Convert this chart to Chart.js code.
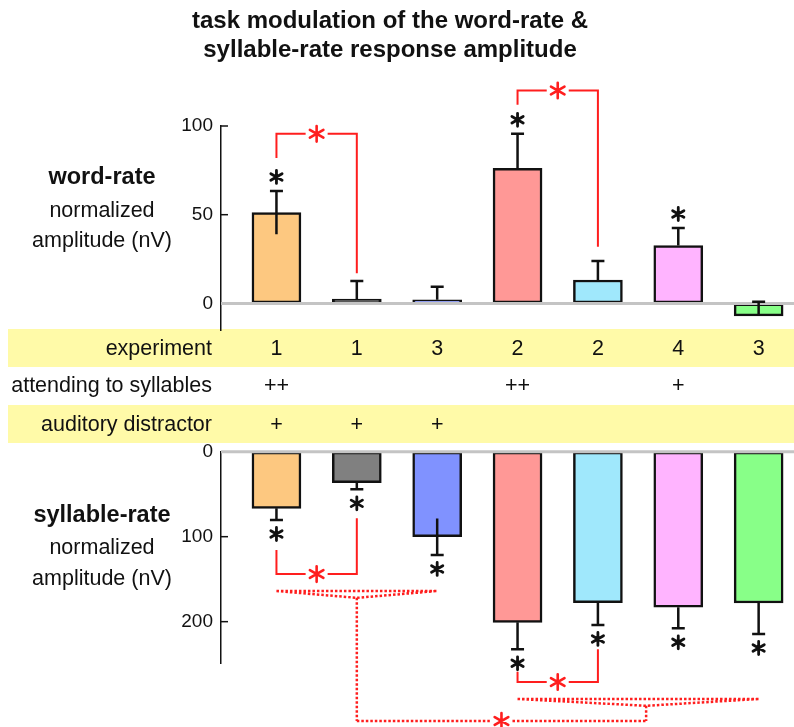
<!DOCTYPE html>
<html>
<head>
<meta charset="utf-8">
<script src="https://cdn.jsdelivr.net/npm/chart.js@4.4.1/dist/chart.umd.min.js"></script>
<style>
body { margin: 0; background: #fff; font-family: "Liberation Sans", Arial, sans-serif; color: #111; }
#wrap { position: relative; width: 794px; height: 727px; overflow: hidden; }
canvas { position: absolute; left: 0; top: 0; }
.t { position: absolute; white-space: nowrap; line-height: 1; }
.band { position: absolute; left: 8px; width: 786px; height: 38px; background: #fffaa8; }
.lab { left: 0; width: 204px; text-align: center; font-size: 21.5px; }
.row { right: 582px; text-align: right; font-size: 21.5px; }
.cell { width: 60px; text-align: center; font-size: 21.5px; }
</style>
</head>
<body>
<div id="wrap">
  <div class="band" style="top:329px"></div>
  <div class="band" style="top:405px"></div>
  <canvas id="top" width="794" height="727"></canvas>
  <canvas id="bottom" width="794" height="727"></canvas>

  <div class="t" style="left:0;width:780px;text-align:center;font-weight:bold;font-size:24px;top:8px">task modulation of the word-rate &amp;</div>
  <div class="t" style="left:0;width:780px;text-align:center;font-weight:bold;font-size:24px;top:37px">syllable-rate response amplitude</div>

  <div class="t lab" style="top:165px;font-weight:bold;font-size:23.5px">word-rate</div>
  <div class="t lab" style="top:200px">normalized</div>
  <div class="t lab" style="top:230px">amplitude (nV)</div>

  <div class="t lab" style="top:503.4px;font-weight:bold;font-size:23.5px">syllable-rate</div>
  <div class="t lab" style="top:536.8px">normalized</div>
  <div class="t lab" style="top:567.5px">amplitude (nV)</div>

  <div class="t row" style="top:337.5px">experiment</div>
  <div class="t row" style="top:375.1px">attending to syllables</div>
  <div class="t row" style="top:413.5px">auditory distractor</div>
  <div id="cells"></div>
</div>

<script>
// table rows
const experiment = ['1', '1', '3', '2', '2', '4', '3']
const attending = ['++', '', '', '++', '', '+', '']
const distractor = ['+', '+', '+', '', '', '', '']

const barColors = ['#fdc880', '#808080', '#8092ff', '#ff9896', '#a0e8fc', '#ffb4ff', '#88ff88']

// word-rate response (nV)
const wordRate = [51.2, 2.4, 2, 76.2, 13.2, 32.6, -7]
const wordErrUp = [12.2, 10.2, 7.4, 19.4, 10.7, 9.9, 7.9]
const wordErrIn = [12.2, 0, 0, 0, 0, 0, 0]
const wordStars = [1, 0, 0, 1, 0, 1, 0]
const wordTicks = [0, 50, 100]

// syllable-rate response (nV)
const sylRate = [66.6, 36.4, 100, 200.8, 177.6, 183, 178]
const sylErrOut = [13.8, 7.9, 21.5, 31.7, 26.3, 24.8, 36.5]
const sylErrIn = [0, 0, 21.5, 0, 0, 0, 0]
const sylStars = [1, 1, 1, 1, 1, 1, 1]
const sylTicks = [0, 100, 200]

// significance brackets: [from, to, leftLeg, rightLeg, level, starAt]
const wordBrackets = [[0, 1, 82, 17, 95.6, 0.5], [3, 4, 112, 32, 120, 3.5]]
const sylBrackets = [[0, 1, 115.6, 78.4, 144, 0.5], [3, 4, 258.8, 232.5, 271, 3.5]]
// dotted group braces: [from, to, level, tip, tipAt]
const sylBraces = [[0, 2, 163.9, 172, 1], [3, 6, 291, 299, 4.6]]
const sylGroupLevel = 316.8
const sylGroupStar = 2.8

const RED = '#ff1e1e'

// six-armed asterisk
function star(ctx, x, y, r, w, color) {
    ctx.save()
    ctx.setLineDash([])
    ctx.strokeStyle = color
    ctx.lineWidth = w
    ctx.lineCap = 'round'
    ctx.beginPath()
    ;[90, 30, 150].forEach(a => {
        const dx = r * Math.cos(a * Math.PI / 180), dy = r * Math.sin(a * Math.PI / 180)
        ctx.moveTo(x - dx, y - dy); ctx.lineTo(x + dx, y + dy)
    })
    ctx.stroke()
    ctx.restore()
}

const annot = {
    id: 'annot',
    afterDatasetsDraw(chart, args, o) {
        const ctx = chart.ctx
        const xs = chart.scales.x, ys = chart.scales.y
        const area = chart.chartArea
        const dir = o.down ? 1 : -1
        ctx.save()

        // zero line
        const y0 = ys.getPixelForValue(0)
        ctx.strokeStyle = '#c4c4c4'
        ctx.lineWidth = 3
        ctx.beginPath(); ctx.moveTo(area.left, y0); ctx.lineTo(area.right, y0); ctx.stroke()

        // inward ticks
        ctx.strokeStyle = '#111'
        ctx.lineWidth = 1.5
        o.ticks.forEach(v => {
            if (v === 0) return
            const y = ys.getPixelForValue(v)
            ctx.beginPath(); ctx.moveTo(area.left, y); ctx.lineTo(area.left + 7, y); ctx.stroke()
        })

        // error bars + stars
        ctx.lineWidth = 2.5
        o.values.forEach((v, i) => {
            const x = xs.getPixelForValue(i)
            const yEnd = ys.getPixelForValue(v + o.errOut[i])
            const yStart = ys.getPixelForValue(v - o.errIn[i])
            ctx.beginPath(); ctx.moveTo(x, yStart); ctx.lineTo(x, yEnd)
            ctx.moveTo(x - 6.5, yEnd); ctx.lineTo(x + 6.5, yEnd)
            ctx.stroke()
            if (o.stars[i]) star(ctx, x, yEnd + dir * 14, 6.5, 2.8, '#111')
        })

        // solid brackets
        ctx.strokeStyle = RED
        ctx.lineWidth = 2
        o.brackets.forEach(b => {
            const x1 = xs.getPixelForValue(b[0]), x2 = xs.getPixelForValue(b[1])
            const yl = ys.getPixelForValue(b[2]), yr = ys.getPixelForValue(b[3])
            const yt = ys.getPixelForValue(b[4]), xm = xs.getPixelForValue(b[5])
            ctx.beginPath()
            ctx.moveTo(x1, yl); ctx.lineTo(x1, yt); ctx.lineTo(xm - 11, yt)
            ctx.moveTo(xm + 11, yt); ctx.lineTo(x2, yt); ctx.lineTo(x2, yr)
            ctx.stroke()
            star(ctx, xm, yt, 7.8, 2.6, RED)
        })

        // dotted braces
        if (o.braces) {
            ctx.strokeStyle = RED
            ctx.setLineDash([2.5, 2])
            ctx.lineWidth = 2.5
            const yg = ys.getPixelForValue(o.groupLevel)
            o.braces.forEach(b => {
                const x1 = xs.getPixelForValue(b[0]), x2 = xs.getPixelForValue(b[1])
                const yb = ys.getPixelForValue(b[2]), yt = ys.getPixelForValue(b[3])
                const xt = xs.getPixelForValue(b[4])
                ctx.beginPath()
                ctx.moveTo(x1, yb); ctx.lineTo(x2, yb)
                ctx.moveTo(x1, yb); ctx.lineTo(xt, yt); ctx.lineTo(x2, yb)
                ctx.moveTo(xt, yt); ctx.lineTo(xt, yg)
                ctx.stroke()
            })
            const gx1 = xs.getPixelForValue(o.braces[0][4]), gx2 = xs.getPixelForValue(o.braces[1][4])
            const gs = xs.getPixelForValue(o.groupStar)
            ctx.beginPath()
            ctx.moveTo(gx1, yg); ctx.lineTo(gs - 11, yg)
            ctx.moveTo(gs + 11, yg); ctx.lineTo(gx2, yg)
            ctx.stroke()
            star(ctx, gs, yg, 7.8, 2.6, RED)
        }
        ctx.restore()
    }
}

function makeChart(id, values, opts) {
    return new Chart(document.getElementById(id), {
        type: 'bar',
        data: {
            datasets: [{
                data: values.map((v, i) => ({ x: i, y: v })),
                backgroundColor: barColors,
                borderColor: '#111',
                borderWidth: 2.5,
                borderSkipped: false,
                barThickness: 49
            }]
        },
        plugins: [annot],
        options: {
            responsive: false,
            animation: false,
            events: [],
            layout: { padding: opts.padding },
            plugins: {
                legend: { display: false },
                tooltip: { enabled: false },
                annot: opts.annot
            },
            scales: {
                x: { type: 'linear', offset: false, min: -0.69, max: 6.44, display: false },
                y: {
                    min: opts.min,
                    max: opts.max,
                    reverse: opts.reverse,
                    afterFit: s => { s.width = 221 },
                    afterBuildTicks: s => { s.ticks = opts.annot.ticks.map(v => ({ value: v })) },
                    grid: { drawOnChartArea: false, drawTicks: false },
                    border: { color: '#111', width: 1.5 },
                    ticks: { padding: 8, color: '#111', font: { size: 19, family: 'Liberation Sans' } }
                }
            }
        }
    })
}

const topChart = makeChart('top', wordRate, {
    padding: { left: 0, right: 0, top: 126, bottom: 397 },
    min: -15, max: 100, reverse: false,
    annot: { values: wordRate, errOut: wordErrUp, errIn: wordErrIn, stars: wordStars, ticks: wordTicks, brackets: wordBrackets, down: false }
})

makeChart('bottom', sylRate, {
    padding: { left: 0, right: 0, top: 451.7, bottom: 63.7 },
    min: 0, max: 249, reverse: true,
    annot: {
        values: sylRate, errOut: sylErrOut, errIn: sylErrIn, stars: sylStars, ticks: sylTicks, brackets: sylBrackets, down: true,
        braces: sylBraces, groupLevel: sylGroupLevel, groupStar: sylGroupStar
    }
})

// table cells aligned with the bars
const cells = document.getElementById('cells')
const rows = [[experiment, 337.5], [attending, 375.1], [distractor, 413.5]]
rows.forEach(([list, top]) => {
    list.forEach((txt, i) => {
        if (!txt) return
        const x = topChart.scales.x.getPixelForValue(i)
        cells.insertAdjacentHTML('beforeend', `<div class="t cell" style="left:${x - 30}px;top:${top}px">${txt}</div>`)
    })
})
</script>
</body>
</html>
